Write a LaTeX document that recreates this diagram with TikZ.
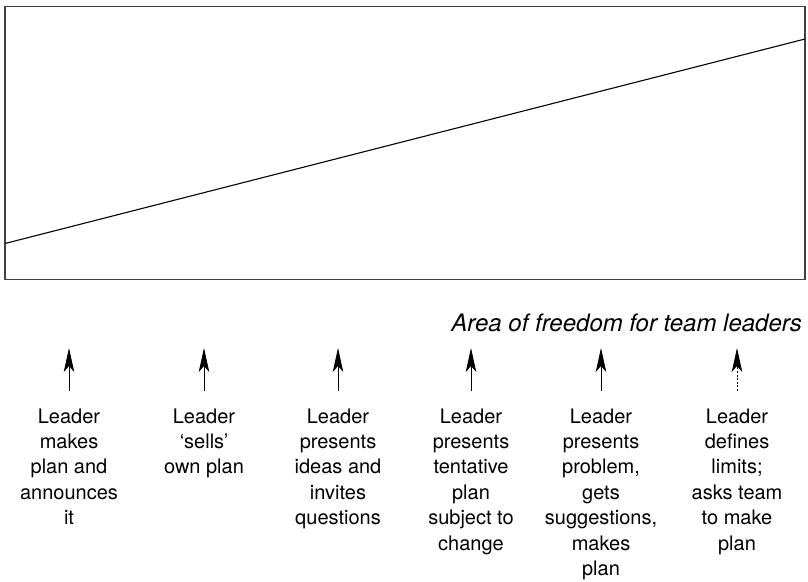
\documentclass[tikz,border=0pt]{standalone}
\usepackage{fontspec}
\setmainfont{TeX Gyre Heros}
\usetikzlibrary{arrows.meta}
\definecolor{framegray}{HTML}{404040}
\begin{document}
\begin{tikzpicture}[x=1pt,y=-1pt,
  frame/.style={draw=framegray,line width=1.4pt},
  slope/.style={draw=black,line width=1.1pt},
  arr/.style={line width=0.8pt,-{Stealth[length=24pt,width=10.5pt,inset=6pt]}},
  dasharr/.style={arr,dash pattern=on 2pt off 1.6pt},
  label/.style={anchor=north,inner sep=0pt,align=center,font=\fontsize{20}{25.4}\selectfont},
  title/.style={anchor=base east,inner sep=0pt,font=\fontsize{24}{28}\selectfont\itshape}]
\useasboundingbox (0,0) rectangle (808,581);
\draw[frame] (5,6.5) rectangle (805,279.5);
\coordinate (L) at (5,243.5);
\coordinate (R) at (805,39);
\draw[slope] (L) -- (R);
\node[title] (tt) at (802,331.3) {Area of freedom for team leaders};
\node[label] (t1) at (69,408.3) {Leader\\makes\\plan and\\announces\\it};
\node[label] (t2) at (204,408.3) {Leader\\‘sells’\\own plan};
\node[label] (t3) at (338,408.3) {Leader\\presents\\ideas and\\invites\\questions};
\node[label] (t4) at (471,408.3) {Leader\\presents\\tentative\\plan\\subject to\\change};
\node[label] (t5) at (601,408.3) {Leader\\presents\\problem,\\gets\\suggestions,\\makes\\plan};
\node[label] (t6) at (737,408.3) {Leader\\defines\\limits;\\asks team\\to make\\plan};
\foreach \i/\x in {1/69,2/204,3/338,4/471,5/601,6/737}{
  \coordinate (b\i) at (\x,391);
  \coordinate (h\i) at (\x,348);
}
\foreach \i in {1,...,5}{\draw[arr] (b\i) -- (h\i);}
\draw[dasharr] (b6) -- (h6);
\end{tikzpicture}
\end{document}
